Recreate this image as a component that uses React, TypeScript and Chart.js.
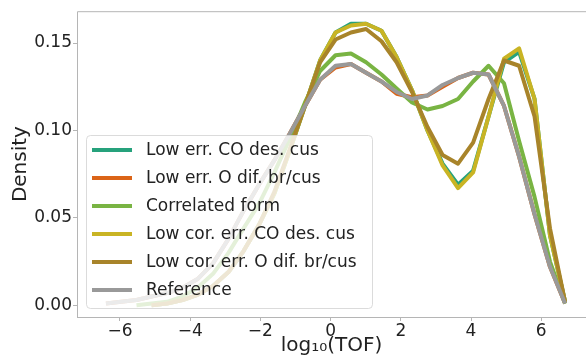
import { useEffect, useRef } from 'react';
import { Chart, registerables } from 'chart.js';

Chart.register(...registerables);

const xs = [-6.84, -6.40, -5.97, -5.53, -5.10, -4.66, -4.22, -3.79, -3.35, -2.91, -2.48, -2.04, -1.60, -1.17, -0.73, -0.30, 0.14, 0.58, 1.01, 1.45, 1.88, 2.32, 2.76, 3.19, 3.63, 4.06, 4.50, 4.94, 5.37, 5.81, 6.25, 6.68];

const lowErrCO = [null, null, null, null, 0.000, 0.001, 0.003, 0.006, 0.011, 0.019, 0.031, 0.046, 0.064, 0.088, 0.114, 0.140, 0.156, 0.161, 0.161, 0.157, 0.142, 0.123, 0.100, 0.081, 0.069, 0.077, 0.108, 0.139, 0.145, 0.118, 0.040, 0.002];
const lowErrO = [null, 0.001, 0.002, 0.003, 0.005, 0.007, 0.010, 0.015, 0.024, 0.038, 0.054, 0.069, 0.083, 0.098, 0.114, 0.129, 0.136, 0.138, 0.133, 0.128, 0.121, 0.119, 0.120, 0.125, 0.130, 0.133, 0.132, 0.114, 0.085, 0.052, 0.022, 0.001];
const correlated = [null, null, null, 0.000, 0.001, 0.002, 0.005, 0.010, 0.018, 0.030, 0.044, 0.058, 0.076, 0.095, 0.116, 0.134, 0.143, 0.144, 0.139, 0.132, 0.124, 0.116, 0.112, 0.114, 0.118, 0.128, 0.137, 0.127, 0.094, 0.062, 0.025, 0.001];
const lowCorErrCO = [null, null, null, null, 0.000, 0.001, 0.003, 0.006, 0.011, 0.019, 0.031, 0.046, 0.064, 0.088, 0.114, 0.140, 0.156, 0.160, 0.161, 0.157, 0.142, 0.123, 0.100, 0.080, 0.067, 0.076, 0.108, 0.141, 0.147, 0.118, 0.040, 0.002];
const lowCorErrO = [null, null, null, null, 0.000, 0.001, 0.003, 0.006, 0.011, 0.019, 0.031, 0.046, 0.065, 0.089, 0.114, 0.139, 0.152, 0.156, 0.158, 0.151, 0.139, 0.122, 0.102, 0.086, 0.081, 0.093, 0.118, 0.140, 0.137, 0.108, 0.044, 0.002];
const reference = [null, 0.001, 0.002, 0.003, 0.005, 0.007, 0.010, 0.015, 0.024, 0.038, 0.054, 0.069, 0.083, 0.098, 0.114, 0.129, 0.137, 0.138, 0.133, 0.128, 0.122, 0.118, 0.120, 0.126, 0.130, 0.133, 0.132, 0.114, 0.085, 0.052, 0.022, 0.001];

const seriesLabels = ['Low err. CO des. cus', 'Low err. O dif. br/cus', 'Correlated form', 'Low cor. err. CO des. cus', 'Low cor. err. O dif. br/cus', 'Reference'];
const seriesValues = [lowErrCO, lowErrO, correlated, lowCorErrCO, lowCorErrO, reference];
const seriesColors = ['#26a27c', '#db6418', '#79b443', '#c9b424', '#a8842a', '#999999'];

const xTicks = [-6, -4, -2, 0, 2, 4, 6];
const yTicks = [0, 0.05, 0.1, 0.15];

const SPINE = '#b5b5b5';
const FONT = 'DejaVu Sans';

const framePlugin = {
  id: 'frame',
  afterDatasetsDraw(chart: any) {
    const { ctx, chartArea: a } = chart;
    ctx.save();
    ctx.strokeStyle = SPINE;
    ctx.lineWidth = 1;
    ctx.beginPath();
    ctx.moveTo(a.left + 0.5, a.bottom);
    ctx.lineTo(a.left + 0.5, a.top + 0.5);
    ctx.lineTo(a.right, a.top + 0.5);
    ctx.moveTo(a.left, a.bottom + 0.5);
    ctx.lineTo(a.right, a.bottom + 0.5);
    ctx.stroke();

    // legend inside the plot area
    const boxW = 286;
    const boxH = 173;
    const x0 = a.left + 9;
    const y0 = a.bottom - 9 - boxH;
    ctx.beginPath();
    ctx.roundRect(x0 + 0.5, y0 + 0.5, boxW, boxH, 4);
    ctx.fillStyle = 'rgba(255,255,255,0.8)';
    ctx.fill();
    ctx.strokeStyle = 'rgba(210,210,210,0.8)';
    ctx.stroke();
    ctx.font = `17px "${FONT}"`;
    ctx.textBaseline = 'middle';
    ctx.textAlign = 'left';
    chart.data.datasets.forEach((ds: any, i: number) => {
      const cy = y0 + 15 + i * 28;
      ctx.strokeStyle = ds.borderColor;
      ctx.lineWidth = 4;
      ctx.beginPath();
      ctx.moveTo(x0 + 6, cy);
      ctx.lineTo(x0 + 46, cy);
      ctx.stroke();
      ctx.fillStyle = '#222';
      ctx.fillText(ds.label, x0 + 60, cy + 1);
    });
    ctx.restore();
  },
};

export default function App() {
  const ref = useRef<HTMLCanvasElement>(null);
  useEffect(() => {
    document.body.style.margin = '0';
    const datasets = seriesLabels.map((label, i) => ({
      label,
      data: xs
        .map((x, j) => ({ x, y: seriesValues[i][j] }))
        .filter((p) => p.y !== null),
      borderColor: seriesColors[i],
      backgroundColor: seriesColors[i],
      borderWidth: 4,
      pointRadius: 0,
      tension: 0,
      fill: false,
      order: seriesLabels.length - i,
      borderJoinStyle: 'round' as const,
    }));
    const chart = new Chart(ref.current!, {
      type: 'line',
      data: { datasets },
      options: {
        animation: false,
        responsive: false,
        devicePixelRatio: 1,
        layout: { padding: { top: 11, right: 0, left: 0, bottom: 0 } },
        plugins: { legend: { display: false }, tooltip: { enabled: false } },
        scales: {
          x: {
            type: 'linear',
            min: -7.225,
            max: 7.276,
            border: { display: false },
            grid: { drawOnChartArea: false, drawTicks: true, tickLength: 4, color: SPINE },
            afterBuildTicks: (scale: any) => {
              scale.ticks = xTicks.map((v) => ({ value: v }));
            },
            afterFit: (scale: any) => {
              scale.height = 45;
            },
            ticks: {
              autoSkip: false,
              maxRotation: 0,
              padding: 0,
              color: '#222',
              font: { family: FONT, size: 17 },
              callback: (v: any) => (Number(v) < 0 ? '\u2212' + Math.abs(Number(v)) : String(v)),
            },
            title: {
              display: true,
              text: 'log\u2081\u2080(TOF)',
              color: '#222',
              font: { family: FONT, size: 20 },
              padding: { top: 0, bottom: 4 },
            },
          },
          y: {
            type: 'linear',
            min: -0.00669,
            max: 0.1682,
            border: { display: false },
            grid: { drawOnChartArea: false, drawTicks: true, tickLength: 4, color: SPINE },
            afterBuildTicks: (scale: any) => {
              scale.ticks = yTicks.map((v) => ({ value: v }));
            },
            afterFit: (scale: any) => {
              scale.width = 77;
            },
            ticks: {
              autoSkip: false,
              padding: 1,
              color: '#222',
              font: { family: FONT, size: 17 },
              callback: (v: any) => Number(v).toFixed(2),
            },
            title: {
              display: true,
              text: 'Density',
              color: '#222',
              font: { family: FONT, size: 20 },
              padding: { top: 9, bottom: 0 },
            },
          },
        },
      },
      plugins: [framePlugin],
    });
    return () => chart.destroy();
  }, []);
  return (
    <div style={{ width: 586, height: 362 }}>
      <canvas ref={ref} width={586} height={362} style={{ display: 'block' }} />
    </div>
  );
}
